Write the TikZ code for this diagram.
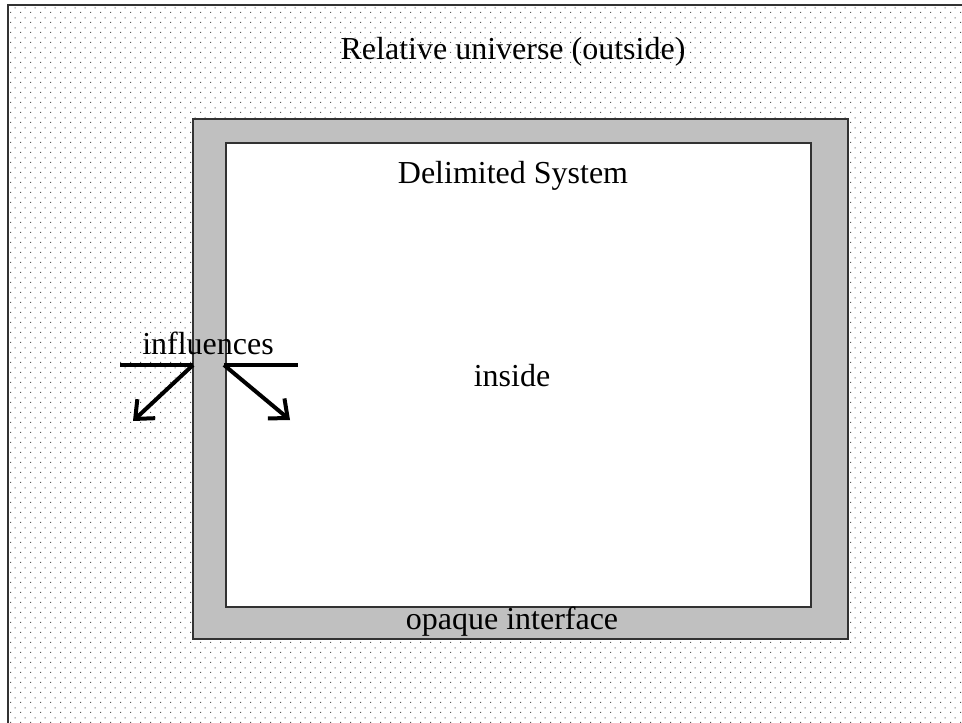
\documentclass[tikz,border=0pt]{standalone}
\usepackage{fontspec}
\setmainfont{Liberation Serif}
\usetikzlibrary{patterns.meta,arrows.meta}
\tikzdeclarepattern{name=bgdots,type=uncolored,bounding box={(0pt,0pt) and (10pt,10pt)},tile size={(10pt,10pt)},
  code={\fill (0pt,0pt) rectangle (1.3pt,1.3pt); \fill (5pt,5pt) rectangle (6.3pt,6.3pt);}}
\definecolor{ifgray}{RGB}{192,192,192}
\definecolor{edge}{RGB}{50,50,50}
\tikzset{
  lbl/.style={font=\fontsize{32}{36}\selectfont, inner sep=0pt},
  bar/.style={line width=4pt},
  infarrow/.style={line width=4pt, -{Straight Barb[length=15pt,width=26pt,line width=4pt]}}
}
\begin{document}
\begin{tikzpicture}[x=1pt,y=-1pt]
\useasboundingbox (0,0) rectangle (962,723);
\fill[white] (0,0) rectangle (962,723);
\fill[pattern=bgdots,pattern color=black!65] (8,5) rectangle (962,723);
\draw[edge,line width=1.8pt] (8,723) -- (8,5) -- (962,5);
\node[draw=edge,line width=1.8pt,fill=ifgray,minimum width=655pt,minimum height=520pt,anchor=north west,inner sep=0pt] (iface) at (192,118) {};
\node[draw=edge,line width=1.5pt,fill=white,minimum width=585pt,minimum height=464pt,anchor=north west,inner sep=0pt] (sys) at (225,142) {};
\node[lbl] (univ) at (513,52) {Relative universe (outside)};
\node[lbl] (dsys) at (513,176) {Delimited System};
\node[lbl] (inside) at (512,376) {inside};
\node[lbl] (opaque) at (512,622) {opaque interface};
\node[lbl] (infl) at (208,343) {influences};
\coordinate (lbar0) at (120,365);
\coordinate (lbar1) at (193,365);
\coordinate (rbar0) at (224,365);
\coordinate (rbar1) at (298,365);
\coordinate (ltip) at (133,421);
\coordinate (rtip) at (290,420);
\draw[bar] (lbar0) -- (lbar1);
\draw[bar] (rbar0) -- (rbar1);
\draw[infarrow] (lbar1) -- (ltip);
\draw[infarrow] (rbar0) -- (rtip);
\end{tikzpicture}
\end{document}
